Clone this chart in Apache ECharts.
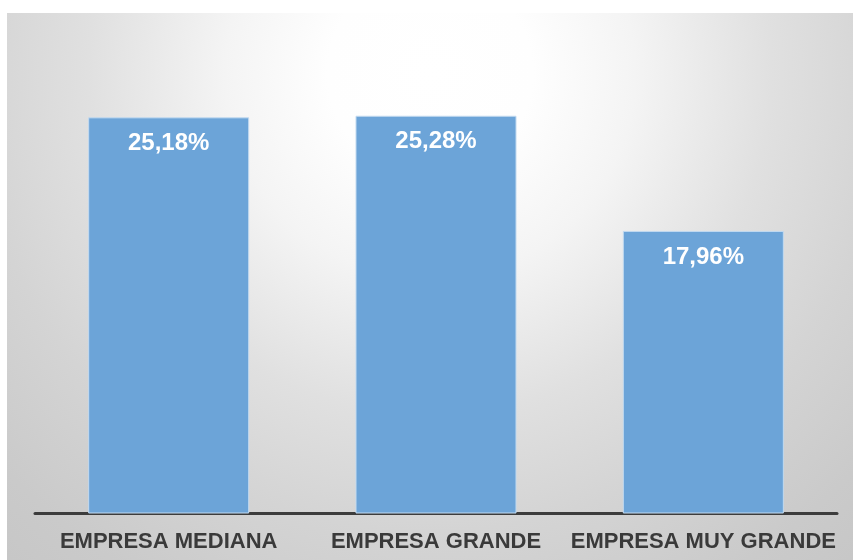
<!DOCTYPE html>
<html>
<head>
<meta charset="utf-8">
<style>
  html, body { margin: 0; padding: 0; background: #ffffff; }
  #chart { width: 853px; height: 560px; }
</style>
<script src="https://cdn.jsdelivr.net/npm/echarts@6/dist/echarts.min.js"></script>
</head>
<body>
<div id="chart"></div>
<script>
// Share by company size (%)
const categories = ['EMPRESA MEDIANA', 'EMPRESA GRANDE', 'EMPRESA MUY GRANDE'];
const shares = [25.18, 25.28, 17.96];

const chart = echarts.init(document.getElementById('chart'), null, { renderer: 'canvas' });

const fmtPct = v => v.toFixed(2).replace('.', ',') + '%';

chart.setOption({
  animation: false,
  backgroundColor: '#ffffff',
  graphic: [{
    // plot panel with a soft radial fill, lightest near the top centre
    type: 'rect',
    left: 7, top: 13, z: -10, silent: true,
    shape: { width: 846, height: 547 },
    style: {
      fill: new echarts.graphic.RadialGradient(0.5, 0.11, 1.25, [
        { offset: 0, color: '#ffffff' },
        { offset: 0.15, color: '#fefefe' },
        { offset: 0.3, color: '#f4f4f4' },
        { offset: 0.5, color: '#e0e0e0' },
        { offset: 0.67, color: '#d4d4d4' },
        { offset: 0.85, color: '#cacaca' },
        { offset: 1, color: '#c5c5c5' }
      ])
    }
  }],
  grid: { left: 35, right: 16, top: 41.5, bottom: 46.5 },
  xAxis: {
    type: 'category',
    data: categories,
    axisLine: { show: true, lineStyle: { color: '#3c3c3c', width: 3 } },
    axisTick: { show: false },
    axisLabel: {
      color: '#3a3a3a',
      fontFamily: 'Liberation Sans, Arial, sans-serif',
      fontWeight: 'bold',
      fontSize: 22,
      margin: 17,
      interval: 0
    }
  },
  yAxis: {
    type: 'value',
    min: 0, max: 30,
    show: false,
    splitLine: { show: false }
  },
  series: [{
    type: 'bar',
    data: shares,
    barWidth: 161,
    itemStyle: { color: '#6ca4d8', borderColor: '#c2daf0', borderWidth: 1 },
    label: {
      show: true,
      position: 'insideTop',
      distance: 14,
      color: '#ffffff',
      fontFamily: 'Liberation Sans, Arial, sans-serif',
      fontWeight: 'bold',
      fontSize: 24,
      formatter: p => fmtPct(p.value)
    }
  }]
});
</script>
</body>
</html>
